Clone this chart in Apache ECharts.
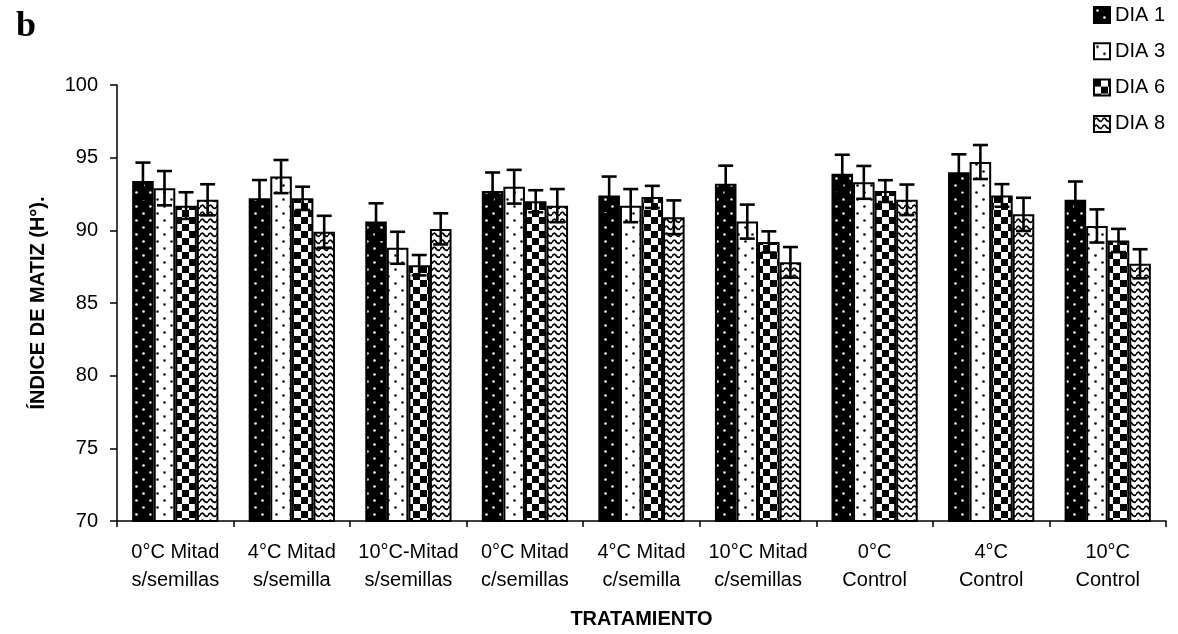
<!DOCTYPE html>
<html>
<head>
<meta charset="utf-8">
<script src="https://cdn.jsdelivr.net/npm/echarts@6/dist/echarts.min.js"></script>
<style>
  html, body { margin: 0; padding: 0; background: #fff; }
  #chart { width: 1178px; height: 634px; }
</style>
</head>
<body>
<div id="chart"></div>
<script>
// Treatments (x categories)
const categories = [
  '0°C Mitad\ns/semillas', '4°C Mitad\ns/semilla', '10°C-Mitad\ns/semillas',
  '0°C Mitad\nc/semillas', '4°C Mitad\nc/semilla', '10°C Mitad\nc/semillas',
  '0°C\nControl', '4°C\nControl', '10°C\nControl'
];
const seriesNames = ['DIA 1', 'DIA 3', 'DIA 6', 'DIA 8'];

// Mean hue index per day
const dia1 = [93.4, 92.2, 90.6, 92.7, 92.4, 93.2, 93.9, 94.0, 92.1];
const dia3 = [92.9, 93.7, 88.8, 93.0, 91.7, 90.6, 93.3, 94.7, 90.3];
const dia6 = [91.7, 92.2, 87.6, 92.0, 92.3, 89.2, 92.7, 92.4, 89.3];
const dia8 = [92.1, 89.9, 90.1, 91.7, 90.9, 87.8, 92.1, 91.1, 87.7];

// Standard error per day
const err1 = [1.26, 1.26, 1.26, 1.28, 1.30, 1.25, 1.30, 1.23, 1.26];
const err3 = [1.18, 1.14, 1.10, 1.16, 1.14, 1.17, 1.13, 1.17, 1.14];
const err6 = [0.92, 0.80, 0.70, 0.76, 0.76, 0.73, 0.75, 0.78, 0.80];
const err8 = [1.07, 1.10, 1.07, 1.14, 1.16, 1.05, 1.05, 1.14, 1.00];

// Y axis range
const yMin = 70, yMax = 100, yStep = 5;

const means = [dia1, dia3, dia6, dia8];
const errs = [err1, err3, err6, err8];

// ---- fill patterns ----
function tile(w, h, draw) {
  const c = document.createElement('canvas');
  c.width = w; c.height = h;
  const ctx = c.getContext('2d');
  draw(ctx, w, h);
  return { image: c, repeat: 'repeat' };
}
function dots(bg, fg) {
  return tile(14, 14, (ctx, w, h) => {
    ctx.fillStyle = bg; ctx.fillRect(0, 0, w, h);
    ctx.fillStyle = fg;
    [[3.5, 3.5], [10.5, 10.5]].forEach(([x, y]) => {
      ctx.beginPath(); ctx.arc(x, y, 1.3, 0, Math.PI * 2); ctx.fill();
    });
  });
}
const checker = tile(14, 14, (ctx, w, h) => {
  ctx.fillStyle = '#fff'; ctx.fillRect(0, 0, w, h);
  ctx.fillStyle = '#000';
  ctx.fillRect(0, 0, 7, 7); ctx.fillRect(7, 7, 7, 7);
});
const waves = tile(8, 7, (ctx, w, h) => {
  ctx.fillStyle = '#fff'; ctx.fillRect(0, 0, w, h);
  ctx.strokeStyle = '#000'; ctx.lineWidth = 1.8;
  ctx.beginPath();
  ctx.moveTo(0, 4.5);
  ctx.quadraticCurveTo(2, 0.5, 4, 3.5);
  ctx.quadraticCurveTo(6, 6.5, 8, 4.5);
  ctx.stroke();
});
const fills = [dots('#000', '#fff'), dots('#fff', '#000'), checker, waves];

const GAP = 0.26;
const barSeries = seriesNames.map((name, i) => ({
  name: name,
  type: 'bar',
  data: means[i],
  barGap: '0%',
  barCategoryGap: (GAP * 100) + '%',
  itemStyle: { color: fills[i], borderColor: '#000', borderWidth: 2 }
}));

// Error bars drawn on top of each bar
const errData = [];
means.forEach((arr, s) => arr.forEach((v, k) => errData.push([k, v, errs[s][k], s])));

const errSeries = {
  type: 'custom',
  name: 'error',
  z: 10,
  silent: true,
  data: errData,
  renderItem: function (params, api) {
    const k = api.value(0), m = api.value(1), e = api.value(2), s = api.value(3);
    const band = api.size([1, 0])[0];
    const bw = band * (1 - GAP) / 4;
    const base = api.coord([k, m]);
    const x = base[0] + (s - 1.5) * bw;
    const yt = api.coord([k, m + e])[1];
    const yb = api.coord([k, m - e])[1];
    const hw = 7.5;
    const st = { stroke: '#000', lineWidth: 2.6 };
    return {
      type: 'group',
      children: [
        { type: 'line', shape: { x1: x, y1: yt, x2: x, y2: yb }, style: st },
        { type: 'line', shape: { x1: x - hw, y1: yt, x2: x + hw, y2: yt }, style: st },
        { type: 'line', shape: { x1: x - hw, y1: yb, x2: x + hw, y2: yb }, style: st }
      ]
    };
  }
};

const FONT = "'Liberation Sans', Arial, sans-serif";
const chart = echarts.init(document.getElementById('chart'), null, { renderer: 'canvas' });
chart.setOption({
  animation: false,
  backgroundColor: '#fff',
  textStyle: { fontFamily: FONT, color: '#000' },
  title: {
    text: 'b', left: 11, top: 4,
    textStyle: { fontFamily: "'Liberation Serif', 'Times New Roman', serif", fontWeight: 'bold', fontSize: 36, color: '#000' }
  },
  legend: {
    data: seriesNames,
    orient: 'vertical',
    icon: 'rect',
    right: 8, top: 0,
    itemWidth: 16, itemHeight: 16,
    itemGap: 16.3,
    textStyle: { fontFamily: FONT, fontSize: 20, color: '#000' },
    itemStyle: { borderColor: '#000', borderWidth: 2 }
  },
  grid: { left: 117, right: 12, top: 85, bottom: 111, containLabel: false },
  xAxis: {
    type: 'category',
    data: categories,
    name: 'TRATAMIENTO',
    nameLocation: 'middle',
    nameGap: 88,
    nameTextStyle: { fontFamily: FONT, fontWeight: 'bold', fontSize: 20, color: '#000' },
    axisLine: { lineStyle: { color: '#000', width: 1.5 } },
    axisTick: { show: true, length: 6, lineStyle: { color: '#000', width: 1.5 } },
    axisLabel: { fontFamily: FONT, fontSize: 20, color: '#000', lineHeight: 28, margin: 17, interval: 0 }
  },
  yAxis: {
    type: 'value',
    min: yMin, max: yMax, interval: yStep,
    name: 'ÍNDICE DE MATIZ (H°).',
    nameLocation: 'middle',
    nameRotate: 90,
    nameGap: 69,
    nameTextStyle: { fontFamily: FONT, fontWeight: 'bold', fontSize: 20, color: '#000' },
    axisLine: { show: true, lineStyle: { color: '#000', width: 1.5 } },
    axisTick: { show: true, length: 7, lineStyle: { color: '#000', width: 1.5 } },
    axisLabel: { fontFamily: FONT, fontSize: 20, color: '#000', margin: 19 },
    splitLine: { show: false }
  },
  series: barSeries.concat([errSeries])
});
</script>
</body>
</html>
